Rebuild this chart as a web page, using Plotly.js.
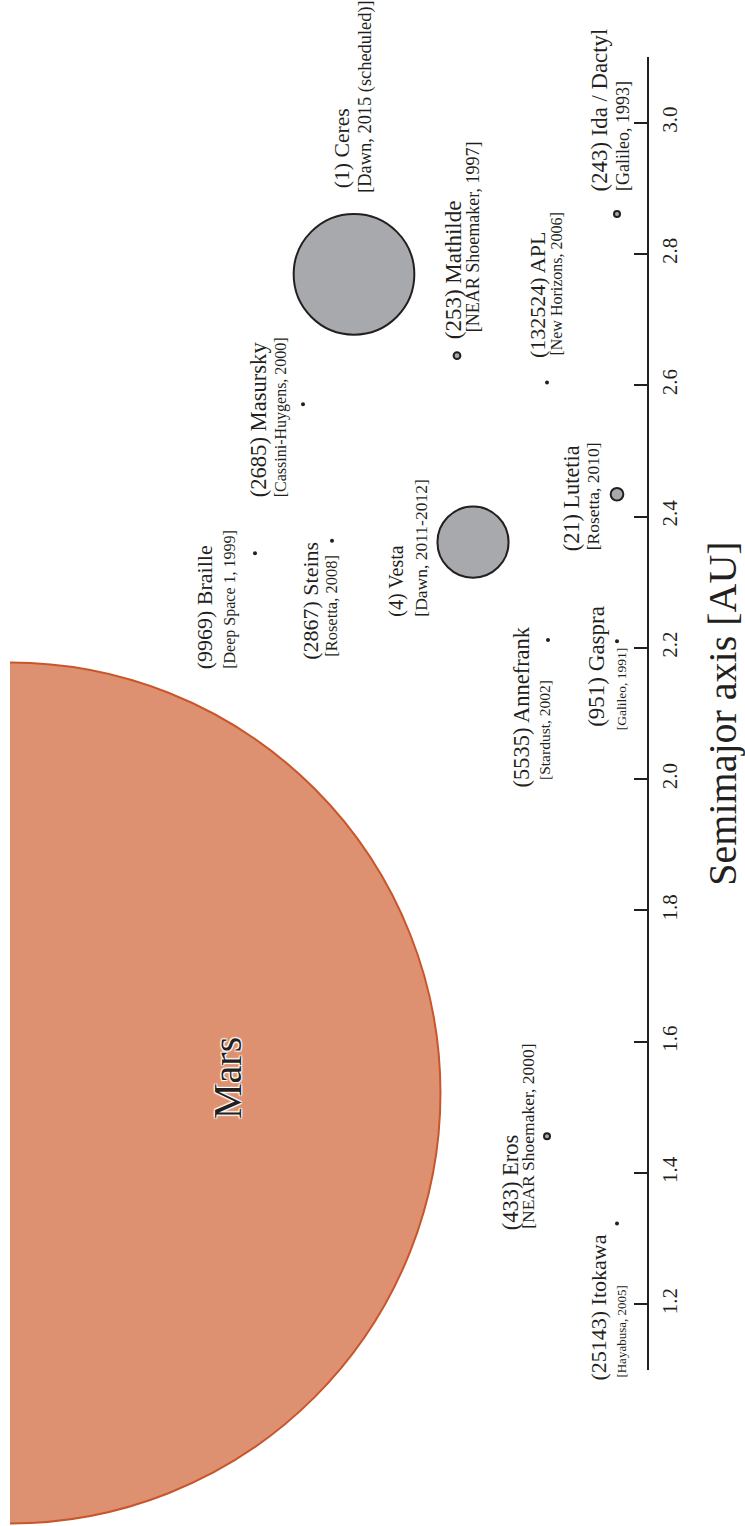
<!DOCTYPE html>
<html><head><meta charset="utf-8">
<script src="https://cdn.plot.ly/plotly-3.0.1.min.js"></script>
<style>html,body{margin:0;padding:0;background:#fff;} #chart{width:745px;height:1526px;}</style>
</head><body><div id="chart"></div>
<script>
// ---- data ----
const names = ['(25143) Itokawa','(433) Eros','(5535) Annefrank','(951) Gaspra','(9969) Braille','(2867) Steins','(4) Vesta','(21) Lutetia','(2685) Masursky','(132524) APL','(253) Mathilde','(1) Ceres','(243) Ida / Dactyl'];
const missions = ['[Hayabusa, 2005]','[NEAR Shoemaker, 2000]','[Stardust, 2002]','[Galileo, 1991]','[Deep Space 1, 1999]','[Rosetta, 2008]','[Dawn, 2011-2012]','[Rosetta, 2010]','[Cassini-Huygens, 2000]','[New Horizons, 2006]','[NEAR Shoemaker, 1997]','[Dawn, 2015 (scheduled)]','[Galileo, 1993]'];
const semimajor = [1.323,1.456,2.212,2.210,2.344,2.363,2.361,2.434,2.571,2.604,2.645,2.769,2.861];
const diameterKm = [0.33,16.8,4.8,12.2,1.6,5.3,560,100,15,2.3,53,950,31];
const marsName = 'Mars';
const marsSemimajor = 1.522;
const marsDiameterKm = 6779;
const tickVals = [1.2,1.4,1.6,1.8,2.0,2.2,2.4,2.6,2.8,3.0];
const tickText = ['1.2','1.4','1.6','1.8','2.0','2.2','2.4','2.6','2.8','3.0'];
const axisTitle = 'Semimajor axis [AU]';

// ---- placement and styling (not data) ----
const column = [607,537,538,607,245,322,463,607,293,537,447,344,607];
const mainOff = [[-18,159],[-37,96],[-27,150],[-20,88],[-51,118],[-21,121],[-76,77],[-46,59],[-45,95],[-10,-22],[-4,-14],[-12,-84],[-18,-20]];
const subOff  = [[5,156],[-19,95],[-3,142],[4,91],[-25,118],[0,118],[-52,77],[-24,58],[-22,95],[10,-25],[16,-21],[12,-79],[6,-21]];
const mainSize = [22,22.5,22.5,23,22,22,20,22.3,22.6,22,23,21.7,22.8];
const subSize  = [13,17.5,15.5,13.5,16,16.5,17.5,17.5,16,16,18,18.4,18];
const pxPerKm = 0.127;
const ink = '#231f20';
const gray = '#a7a9ac';
const serif = 'Liberation Serif';

const isDot = diameterKm.map(d => d < 16);
const sizes = diameterKm.map((d,i) => isDot[i] ? 4 : Math.max(d*pxPerKm, 6));
const colors = isDot.map(b => b ? ink : gray);
const lw = isDot.map(b => b ? 0 : 2);

const traces = [
  {type:'scatter', mode:'markers', x:[0], y:[marsSemimajor], xaxis:'x', yaxis:'y',
   marker:{size: marsDiameterKm*pxPerKm, color:'#de9170', line:{color:'#c9562b', width:2}},
   hoverinfo:'skip', showlegend:false},
  {type:'scatter', mode:'markers', x:column, y:semimajor, xaxis:'x2', yaxis:'y2',
   marker:{size:sizes, color:colors, line:{color:ink, width:lw}, opacity:1},
   hoverinfo:'skip', showlegend:false}
];

const annotations = [];
names.forEach((n,i) => {
  annotations.push({x:column[i], y:semimajor[i], xref:'x2', yref:'y2', text:n, showarrow:false,
    textangle:-90, xanchor:'center', yanchor:'bottom', xshift:mainOff[i][0], yshift:-mainOff[i][1],
    font:{family:serif, size:mainSize[i], color:ink}});
  annotations.push({x:column[i], y:semimajor[i], xref:'x2', yref:'y2', text:missions[i], showarrow:false,
    textangle:-90, xanchor:'center', yanchor:'bottom', xshift:subOff[i][0], yshift:-subOff[i][1],
    font:{family:serif, size:subSize[i], color:ink}});
});
annotations.push({x:0, y:marsSemimajor, xref:'x', yref:'y', text:marsName, showarrow:false,
  textangle:-90, xanchor:'center', yanchor:'middle', xshift:218, yshift:15,
  font:{family:serif, size:40, color:ink, shadow:'1px 1px 1px #fff, -1px -1px 1px #fff, 1px -1px 1px #fff, -1px 1px 1px #fff'}});

const layout = {
  width:745, height:1526, margin:{l:10, r:98, t:0, b:0},
  paper_bgcolor:'#fff', plot_bgcolor:'rgba(0,0,0,0)', showlegend:false,
  font:{family:serif, color:ink},
  xaxis:{domain:[0,1], range:[0,637], visible:false, fixedrange:true},
  yaxis:{domain:[0,1], range:[0.86238,3.18682], visible:false, fixedrange:true},
  xaxis2:{domain:[0,1], range:[0,637], visible:false, anchor:'y2'},
  yaxis2:{domain:[156/1526, 1469/1526], range:[1.1,3.1], anchor:'x2', side:'right',
    showline:true, linewidth:2, linecolor:ink, ticks:'inside', ticklen:13, tickwidth:2, tickcolor:ink,
    tickvals:tickVals, ticktext:tickText, tickangle:-90, tickfont:{family:serif, size:21, color:ink},
    ticklabelstandoff:3, showgrid:false, zeroline:false,
    title:{text:axisTitle, font:{family:serif, size:40, color:ink}, standoff:33}},
  annotations:annotations
};
Plotly.newPlot('chart', traces, layout, {staticPlot:true, displayModeBar:false});
</script></body></html>
